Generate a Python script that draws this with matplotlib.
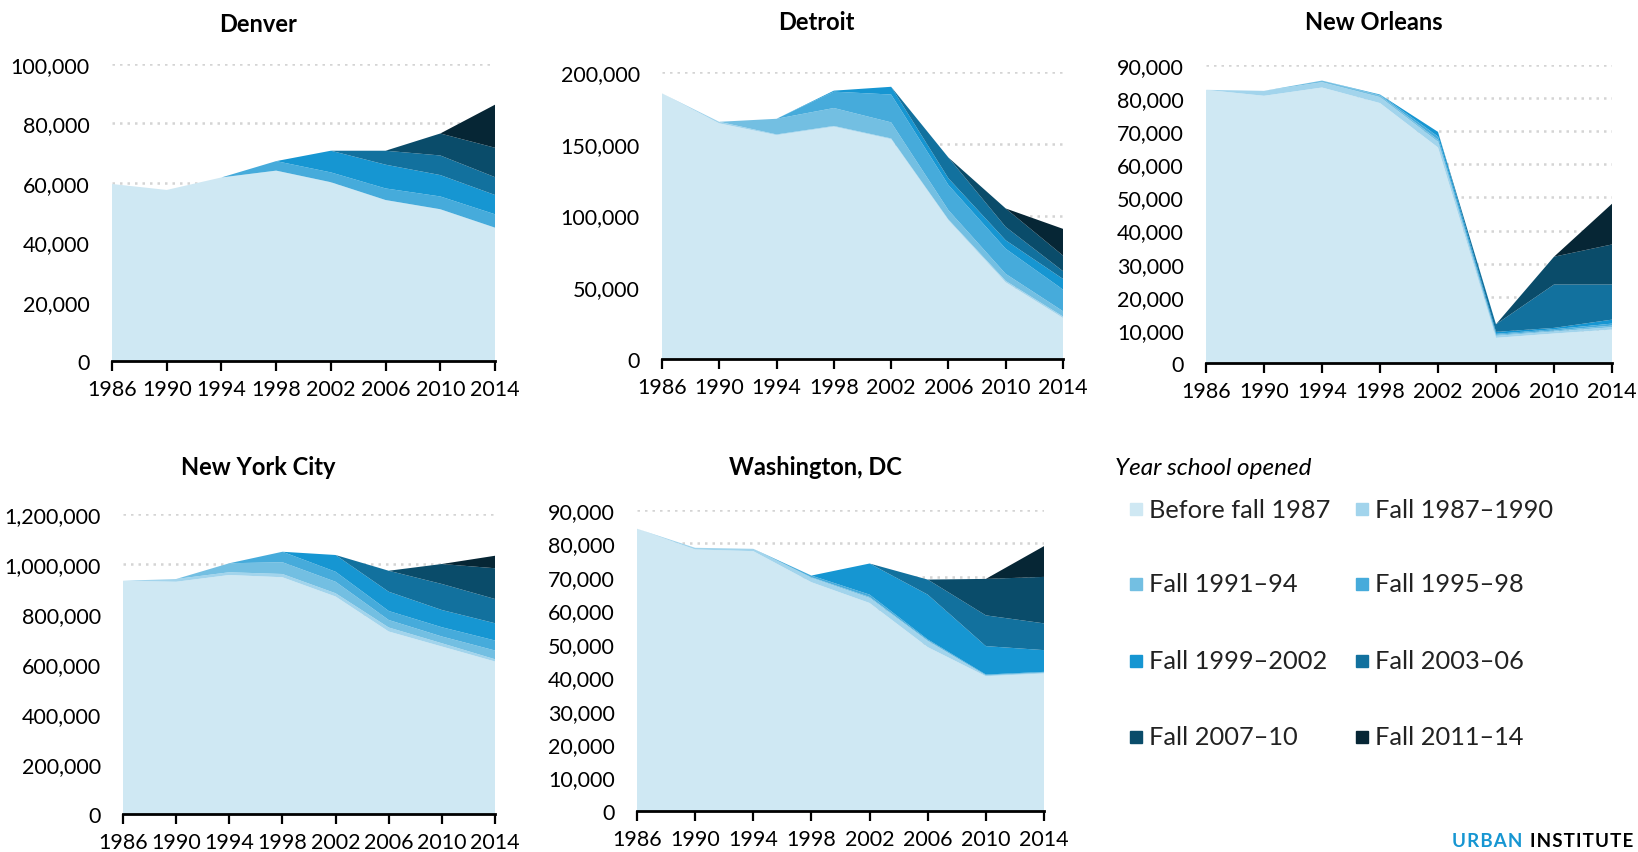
import matplotlib
matplotlib.use('Agg')
import matplotlib.pyplot as plt
from matplotlib.patches import Rectangle
from matplotlib.ticker import StrMethodFormatter, MultipleLocator

plt.rcParams['font.family'] = ['Lato', 'DejaVu Sans']

# Enrollment by year school opened, stacked by cohort
years = [1986, 1990, 1994, 1998, 2002, 2006, 2010, 2014]
cohorts = ['Before fall 1987', 'Fall 1987\u20131990', 'Fall 1991\u201394', 'Fall 1995\u201398',
           'Fall 1999\u20132002', 'Fall 2003\u201306', 'Fall 2007\u201310', 'Fall 2011\u201314']
colors = ['#CFE8F3', '#A2D4EC', '#73BFE2', '#46ABDB', '#1696D2', '#12719E', '#0A4C6A', '#062635']

denver = [
    [59600, 57600, 61800, 64100, 60200, 54200, 51100, 44900],
    [0, 0, 0, 0, 0, 0, 0, 0],
    [0, 0, 0, 0, 0, 0, 0, 0],
    [0, 0, 0, 3200, 3300, 3900, 4300, 4500],
    [0, 0, 0, 0, 7300, 8000, 7200, 6500],
    [0, 0, 0, 0, 0, 4700, 6600, 6000],
    [0, 0, 0, 0, 0, 0, 7400, 9900],
    [0, 0, 0, 0, 0, 0, 0, 14500],
]
detroit = [
    [185100, 164200, 156000, 161900, 153200, 96700, 53400, 28600],
    [0, 1100, 500, 500, 500, 500, 1000, 1000],
    [0, 0, 10900, 12500, 11200, 6500, 4900, 3700],
    [0, 0, 0, 11400, 19400, 17500, 17500, 15100],
    [0, 0, 0, 700, 5400, 4700, 5900, 7400],
    [0, 0, 0, 0, 0, 14500, 9300, 5400],
    [0, 0, 0, 0, 0, 0, 12900, 10900],
    [0, 0, 0, 0, 0, 0, 0, 18600],
]
new_orleans = [
    [82500, 80700, 83200, 78500, 65100, 7600, 8900, 10100],
    [0, 1500, 1600, 1800, 1700, 600, 600, 700],
    [0, 0, 500, 500, 600, 300, 300, 500],
    [0, 0, 0, 300, 1000, 300, 400, 600],
    [0, 0, 0, 0, 1400, 600, 400, 1200],
    [0, 0, 0, 0, 0, 2300, 13100, 10600],
    [0, 0, 0, 0, 0, 0, 8400, 12100],
    [0, 0, 0, 0, 0, 0, 0, 12300],
]
new_york = [
    [933000, 929000, 956000, 947000, 870000, 730000, 670000, 610000],
    [0, 11000, 11000, 13000, 13000, 16000, 13000, 9000],
    [0, 0, 36000, 47000, 46000, 30000, 27000, 35000],
    [0, 0, 0, 42000, 40000, 36000, 37000, 40000],
    [0, 0, 0, 0, 67000, 77000, 69000, 69000],
    [0, 0, 0, 0, 0, 84000, 104000, 97000],
    [0, 0, 0, 0, 0, 0, 80000, 123000],
    [0, 0, 0, 0, 0, 0, 0, 50000],
]
washington = [
    [84400, 78200, 77700, 68400, 62200, 49000, 40300, 41100],
    [0, 500, 700, 1300, 1500, 1800, 300, 300],
    [0, 0, 0, 200, 300, 200, 0, 0],
    [0, 0, 0, 500, 700, 300, 200, 200],
    [0, 0, 0, 0, 9300, 13400, 8500, 6500],
    [0, 0, 0, 0, 0, 4500, 9200, 8000],
    [0, 0, 0, 0, 0, 0, 10900, 13900],
    [0, 0, 0, 0, 0, 0, 0, 9200],
]

W, H = 1638, 853
fig = plt.figure(figsize=(W / 100, H / 100), dpi=100)

# (title, data, ymax, ystep, axes box in px [x0, x1, ytop, ybottom], title pos in px)
panels = [
    ('Denver', denver, 100000, 20000, [112, 495, 65, 362], (258, 25)),
    ('Detroit', detroit, 200000, 50000, [662, 1063, 73, 360], (816, 22)),
    ('New Orleans', new_orleans, 90000, 10000, [1206, 1612, 66, 364], (1374, 22)),
    ('New York City', new_york, 1200000, 200000, [123, 495, 515, 815], (258, 468)),
    ('Washington, DC', washington, 90000, 10000, [637, 1044, 511, 812], (815, 468)),
]

for title, data, ymax, ystep, box, tpos in panels:
    x0, x1, yt, yb = box
    ax = fig.add_axes([x0 / W, 1 - yb / H, (x1 - x0) / W, (yb - yt) / H])
    ax.stackplot(years, *data, colors=colors, linewidth=0)
    ax.set_xlim(1986, 2014)
    ax.set_ylim(0, ymax)
    ax.set_xticks(years)
    ax.yaxis.set_major_locator(MultipleLocator(ystep))
    ax.yaxis.set_major_formatter(StrMethodFormatter('{x:,.0f}'))
    ax.set_axisbelow(True)
    ax.yaxis.grid(True, color='#d4d4d4', linestyle=(0, (1, 2)), linewidth=1.8)
    for s in ['top', 'right', 'left']:
        ax.spines[s].set_visible(False)
    ax.spines['bottom'].set_linewidth(2)
    ax.spines['bottom'].set_zorder(5)
    ax.tick_params(axis='x', length=7, width=1.6, pad=6, labelsize=15.5, color='black')
    ax.tick_params(axis='y', length=0, pad=16, labelsize=15.5)
    fig.text(tpos[0] / W, 1 - tpos[1] / H, title, ha='center', va='center',
             fontsize=17, fontweight='bold')

# legend
fig.text(1115 / W, 1 - 469 / H, 'Year school opened', ha='left', va='center',
         fontsize=17.5, style='italic')
rows = [510, 585, 662, 738]
cols = [(1130, 1149), (1356, 1375)]
for i, (lab, col) in enumerate(zip(cohorts, colors)):
    r, c = divmod(i, 2)
    sx, tx = cols[c]
    y = rows[r]
    fig.patches.append(Rectangle((sx / W, 1 - (y + 6) / H), 12 / W, 12 / H,
                                 transform=fig.transFigure, color=col, figure=fig))
    fig.text(tx / W, 1 - y / H, lab, ha='left', va='center', fontsize=18.3, color='#222222')

# branding
sp = '\u200a'
fig.text(1452 / W, 1 - 842 / H, sp.join('URBAN'), ha='left', va='center',
         fontsize=13.5, fontweight='bold', color='#1696D2')
fig.text(1633 / W, 1 - 842 / H, sp.join('INSTITUTE'), ha='right', va='center',
         fontsize=13.5, fontweight='bold', color='black')

fig.savefig('out.png', dpi=100)
